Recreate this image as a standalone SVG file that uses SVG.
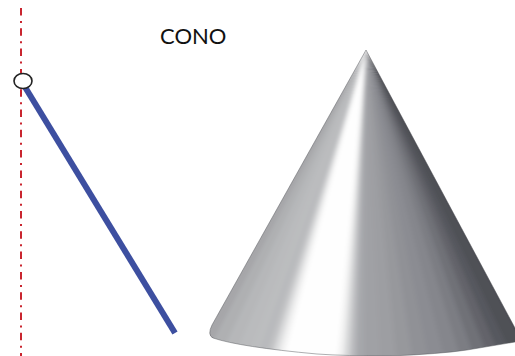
<svg xmlns="http://www.w3.org/2000/svg" width="515" height="356" viewBox="0 0 515 356">
<style>
.t{font-family:Lato,"Liberation Sans",sans-serif;font-size:22px;fill:#111}
</style>
<defs>
<clipPath id="c"><path d="M366,50 L212,325 Q207,335 213,338 Q240,347 317,354 Q345,356 390,356 Q440,354 467,350 L515,342 L515,328 Z"/></clipPath>
<filter id="b" x="-5%" y="-5%" width="110%" height="110%"><feGaussianBlur stdDeviation="2.2 0"/></filter>
</defs>
<rect width="515" height="356" fill="#fff"/>
<path d="M21,8V356" fill="none" stroke="#c9252f" stroke-width="2" stroke-dasharray="7.5 5.5 2 5.3"/>
<path d="M25,87L175,333" fill="none" stroke="#3d4fa0" stroke-width="6"/>
<ellipse cx="23" cy="81" rx="9" ry="7.5" fill="#fff" stroke="#222" stroke-width="1.6"/>
<text class="t" x="160" y="44">CONO</text>
<g clip-path="url(#c)">
<g filter="url(#b)">
<polygon points="366,50 170,356 209,356" fill="#a6a6a9"/>
<polygon points="366,50 205,356 224,356" fill="#afb0b2"/>
<polygon points="366,50 220,356 239,356" fill="#b6b7b9"/>
<polygon points="366,50 235,356 252,356" fill="#babbbd"/>
<polygon points="366,50 248,356 262,356" fill="#bcbdbf"/>
<polygon points="366,50 258,356 270,356" fill="#b8b9bc"/>
<polygon points="366,50 266,356 276,356" fill="#c2c3c5"/>
<polygon points="366,50 272,356 282,356" fill="#dbdcdd"/>
<polygon points="366,50 278,356 288,356" fill="#f2f2f2"/>
<polygon points="366,50 284,356 342,356" fill="#fefefe"/>
<polygon points="366,50 338,356 348,356" fill="#f2f2f2"/>
<polygon points="366,50 344,356 354,356" fill="#d6d7d8"/>
<polygon points="366,50 350,356 360,356" fill="#b9babd"/>
<polygon points="366,50 356,356 368,356" fill="#a6a7ab"/>
<polygon points="366,50 364,356 384,356" fill="#a0a1a5"/>
<polygon points="366,50 380,356 400,356" fill="#9d9ea2"/>
<polygon points="366,50 396,356 416,356" fill="#97989c"/>
<polygon points="366,50 412,356 432,356" fill="#909196"/>
<polygon points="366,50 428,356 448,356" fill="#8b8c92"/>
<polygon points="366,50 444,356 464,356" fill="#85868c"/>
<polygon points="366,50 460,356 478,356" fill="#7c7d83"/>
<polygon points="366,50 474,356 492,356" fill="#707177"/>
<polygon points="366,50 488,356 504,356" fill="#63646a"/>
<polygon points="366,50 500,356 516,356" fill="#57585e"/>
<polygon points="366,50 512,356 534,356" fill="#505157"/>
<polygon points="366,50 530,356 580,356" fill="#4b4c52"/>
</g>
</g>
<path d="M366,50 L212,325 Q207,335 213,338 Q240,347 317,354 Q345,356 390,356 Q440,354 467,350 L515,342" fill="none" stroke="#55565a" stroke-width="0.8" stroke-opacity="0.6"/>
<path d="M366,50 L515,328" fill="none" stroke="#47484c" stroke-width="0.8" stroke-opacity="0.6"/>
</svg>
